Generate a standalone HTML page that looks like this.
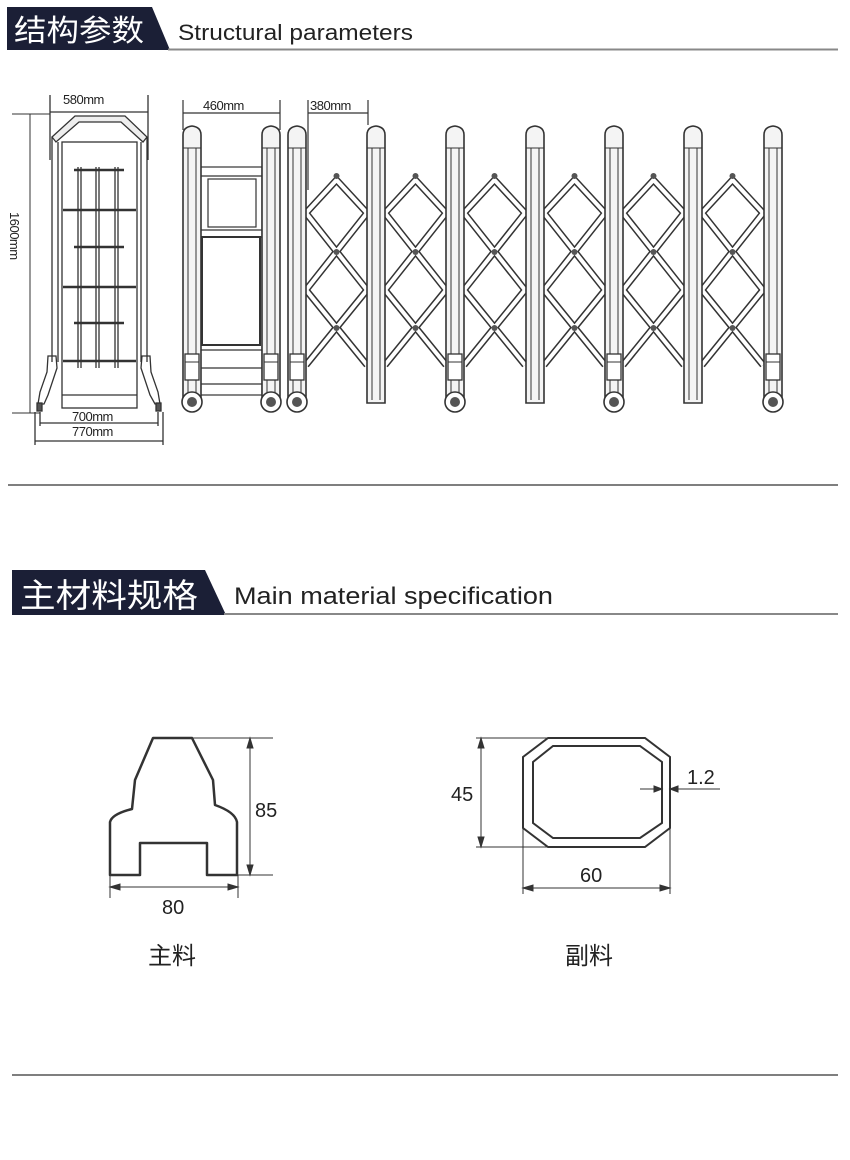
<!DOCTYPE html>
<html><head><meta charset="utf-8"><style>
html,body{margin:0;padding:0;background:#fff;}
body{width:850px;height:1160px;overflow:hidden;position:relative;font-family:"Liberation Sans","Noto Sans CJK SC",sans-serif;}
</style></head><body>
<svg width="850" height="1160" viewBox="0 0 850 1160" xmlns="http://www.w3.org/2000/svg" style="position:absolute;left:0;top:0">
<defs>
<g id="post">
 <path d="M-9,403 L-9,135 Q-9,127 0,126 Q9,127 9,135 L9,403 Z" fill="#f4f4f4" stroke="#333" stroke-width="1.6"/>
 <line x1="-4" y1="148" x2="-4" y2="400" stroke="#333" stroke-width="1"/>
 <line x1="4" y1="148" x2="4" y2="400" stroke="#333" stroke-width="1"/>
 <line x1="-9" y1="148" x2="9" y2="148" stroke="#333" stroke-width="1"/>
</g>
<g id="wpost">
 <use href="#post"/>
 <rect x="-7" y="354" width="14" height="26" fill="#fff" stroke="#333" stroke-width="1.3"/>
 <line x1="-7" y1="362" x2="7" y2="362" stroke="#333"/>
 <circle cx="0" cy="402" r="10" fill="#fff" stroke="#333" stroke-width="1.6"/>
 <circle cx="0" cy="402" r="5" fill="#555"/>
</g>
<g id="bay">
 <g stroke="#333" stroke-width="7" fill="none" stroke-linecap="butt">
  <polyline points="0,213 30.5,180 61,213"/>
  <line x1="0" y1="213" x2="61" y2="290"/>
  <line x1="0" y1="290" x2="61" y2="213"/>
  <line x1="0" y1="290" x2="61" y2="365"/>
  <line x1="0" y1="365" x2="61" y2="290"/>
 </g>
 <g stroke="#fff" stroke-width="4" fill="none">
  <polyline points="0,213 30.5,180 61,213"/>
  <line x1="0" y1="213" x2="61" y2="290"/>
  <line x1="0" y1="290" x2="61" y2="213"/>
  <line x1="0" y1="290" x2="61" y2="365"/>
  <line x1="0" y1="365" x2="61" y2="290"/>
 </g>
 <circle cx="30.5" cy="176" r="3" fill="#555"/>
 <circle cx="30.5" cy="252" r="3" fill="#555"/>
 <circle cx="30.5" cy="328" r="3" fill="#555"/>
</g>
</defs>

<!-- Header 1 -->
<path d="M7,7 L152,7 L170,50 L7,50 Z" fill="#1b1f36"/>
<line x1="168" y1="49.5" x2="838" y2="49.5" stroke="#888" stroke-width="2"/>
<text x="14" y="41" fill="#fff" font-size="30" textLength="130" lengthAdjust="spacingAndGlyphs" font-family="Noto Sans CJK SC,sans-serif">结构参数</text>
<text x="178" y="40" fill="#222" font-size="22" textLength="235" lengthAdjust="spacingAndGlyphs" font-family="Liberation Sans,sans-serif">Structural parameters</text>

<!-- Front frame -->
<g stroke="#333" fill="none" stroke-width="1.3">
 <line x1="50" y1="95" x2="50" y2="160"/><line x1="148" y1="95" x2="148" y2="160"/>
 <line x1="50" y1="112" x2="148" y2="112"/>
 <path d="M52,137 L75,116 L125,116 L147,137 L143,142 L121,122 L79,122 L56,142 Z" fill="#eee"/>
 <line x1="52" y1="137" x2="52" y2="362"/><line x1="58" y1="142" x2="58" y2="362"/>
 <line x1="147" y1="137" x2="147" y2="362"/><line x1="141" y1="142" x2="141" y2="362"/>
 <rect x="62" y="142" width="75" height="266"/>
 <line x1="62" y1="395" x2="137" y2="395"/>
 <line x1="78" y1="167" x2="78" y2="368"/><line x1="81" y1="167" x2="81" y2="368"/>
 <line x1="96" y1="167" x2="96" y2="368"/><line x1="99" y1="167" x2="99" y2="368"/>
 <line x1="115" y1="167" x2="115" y2="368"/><line x1="118" y1="167" x2="118" y2="368"/>
 <g stroke-width="2.5">
 <line x1="74" y1="170" x2="124" y2="170"/><line x1="63" y1="210" x2="136" y2="210"/>
 <line x1="74" y1="247" x2="124" y2="247"/><line x1="63" y1="287" x2="136" y2="287"/>
 <line x1="74" y1="323" x2="124" y2="323"/><line x1="63" y1="361" x2="136" y2="361"/>
 </g>
 <path d="M48,356 L56,356 L57,368 L48,395 L44,404 L38,404 L40,392 L47,372 Z"/>
 <path d="M150,356 L142,356 L141,368 L150,395 L155,404 L160,404 L158,392 L151,372 Z"/>
 <rect x="37" y="403" width="5" height="8" fill="#555"/><rect x="156" y="403" width="5" height="8" fill="#555"/>
 <line x1="12" y1="114" x2="50" y2="114" stroke-width="1"/>
 <line x1="12" y1="413" x2="40" y2="413" stroke-width="1"/>
 <line x1="30" y1="114" x2="30" y2="413" stroke-width="1"/>
 <line x1="40" y1="412" x2="40" y2="426"/><line x1="158" y1="412" x2="158" y2="426"/>
 <line x1="40" y1="423" x2="158" y2="423"/>
 <line x1="35" y1="412" x2="35" y2="445"/><line x1="163" y1="412" x2="163" y2="445"/>
 <line x1="35" y1="441" x2="163" y2="441"/>
</g>
<g font-family="Liberation Sans,sans-serif" font-size="13" fill="#222" letter-spacing="-0.5">
 <text x="63" y="104">580mm</text>
 <text x="72" y="421">700mm</text>
 <text x="72" y="436">770mm</text>
 <text transform="translate(10,212) rotate(90)">1600mm</text>
 <text x="203" y="110">460mm</text>
 <text x="310" y="110">380mm</text>
</g>

<!-- Side view -->
<g stroke="#333" fill="none" stroke-width="1.2">
 <line x1="183" y1="100" x2="183" y2="130"/><line x1="280" y1="100" x2="280" y2="130"/>
 <line x1="183" y1="113" x2="280" y2="113"/>
 <line x1="308" y1="100" x2="308" y2="190"/><line x1="368" y1="100" x2="368" y2="125"/>
 <line x1="308" y1="113" x2="368" y2="113"/>
 <rect x="200" y="167" width="62" height="228"/>
 <line x1="200" y1="176" x2="262" y2="176"/>
 <rect x="208" y="179" width="48" height="48"/>
 <line x1="200" y1="230" x2="262" y2="230"/><line x1="200" y1="237" x2="262" y2="237"/>
 <rect x="202" y="237" width="58" height="108" stroke-width="2"/>
 <line x1="200" y1="350" x2="262" y2="350"/><line x1="200" y1="368" x2="262" y2="368"/><line x1="200" y1="384" x2="262" y2="384"/>
</g>
<use href="#wpost" x="192" y="0"/>
<use href="#wpost" x="271" y="0"/>

<!-- Lattice -->
<use href="#bay" x="306" y="0"/><use href="#bay" x="385" y="0"/><use href="#bay" x="464" y="0"/>
<use href="#bay" x="544" y="0"/><use href="#bay" x="623" y="0"/><use href="#bay" x="702" y="0"/>
<use href="#wpost" x="297" y="0"/>
<use href="#post" x="376" y="0"/>
<use href="#wpost" x="455" y="0"/>
<use href="#post" x="535" y="0"/>
<use href="#wpost" x="614" y="0"/>
<use href="#post" x="693" y="0"/>
<use href="#wpost" x="773" y="0"/>

<line x1="8" y1="485" x2="838" y2="485" stroke="#555" stroke-width="1.5"/>

<!-- Header 2 -->
<path d="M12,570 L205,570 L226,615 L12,615 Z" fill="#1b1f36"/>
<line x1="224" y1="614" x2="838" y2="614" stroke="#888" stroke-width="2"/>
<text x="20" y="607" fill="#fff" font-size="33" textLength="178" lengthAdjust="spacingAndGlyphs" font-family="Noto Sans CJK SC,sans-serif">主材料规格</text>
<text x="234" y="604" fill="#222" font-size="24" textLength="319" lengthAdjust="spacingAndGlyphs" font-family="Liberation Sans,sans-serif">Main material specification</text>

<!-- Main profile -->
<g stroke="#333" fill="none" stroke-width="2.5" stroke-linejoin="round">
 <path d="M110,875 L110,822 Q112,814 132,809 L135,780 L153,738 L192,738 L213,780 L215,805 Q235,812 237,822 L237,875 L207,875 L207,843 L140,843 L140,875 Z"/>
</g>
<g stroke="#333" fill="#333" stroke-width="1">
 <line x1="192" y1="738" x2="273" y2="738"/><line x1="237" y1="875" x2="273" y2="875"/>
 <line x1="250" y1="738" x2="250" y2="875"/>
 <path d="M250,738 l-3,10 h6 z"/><path d="M250,875 l-3,-10 h6 z"/>
 <line x1="110" y1="875" x2="110" y2="898"/><line x1="238" y1="875" x2="238" y2="898"/>
 <line x1="110" y1="887" x2="238" y2="887"/>
 <path d="M110,887 l10,-3 v6 z"/><path d="M238,887 l-10,-3 v6 z"/>
</g>
<text x="255" y="817" font-size="20" font-family="Liberation Sans,sans-serif" fill="#222">85</text>
<text x="162" y="914" font-size="20" font-family="Liberation Sans,sans-serif" fill="#222">80</text>

<!-- Sub profile -->
<g stroke="#333" fill="none" stroke-width="2">
 <path d="M548,738 L645,738 L670,757 L670,828 L645,847 L548,847 L523,828 L523,757 Z"/>
 <path d="M553,746 L640,746 L662,762 L662,823 L640,838 L553,838 L533,823 L533,762 Z"/>
</g>
<g stroke="#333" fill="#333" stroke-width="1">
 <line x1="476" y1="738" x2="548" y2="738"/><line x1="476" y1="847" x2="548" y2="847"/>
 <line x1="481" y1="738" x2="481" y2="847"/>
 <path d="M481,738 l-3,10 h6 z"/><path d="M481,847 l-3,-10 h6 z"/>
 <line x1="523" y1="828" x2="523" y2="894"/><line x1="670" y1="828" x2="670" y2="894"/>
 <line x1="523" y1="888" x2="670" y2="888"/>
 <path d="M523,888 l10,-3 v6 z"/><path d="M670,888 l-10,-3 v6 z"/>
 <line x1="640" y1="789" x2="662" y2="789"/><path d="M662,789 l-8,-3 v6 z"/>
 <line x1="670" y1="789" x2="720" y2="789"/><path d="M670,789 l8,-3 v6 z"/>
</g>
<text x="451" y="801" font-size="20" font-family="Liberation Sans,sans-serif" fill="#222">45</text>
<text x="687" y="784" font-size="20" font-family="Liberation Sans,sans-serif" fill="#222">1.2</text>
<text x="580" y="882" font-size="20" font-family="Liberation Sans,sans-serif" fill="#222">60</text>

<text x="148" y="964" font-size="24" font-family="Noto Sans CJK SC,sans-serif" fill="#222">主料</text>
<text x="565" y="964" font-size="24" font-family="Noto Sans CJK SC,sans-serif" fill="#222">副料</text>

<line x1="12" y1="1075" x2="838" y2="1075" stroke="#555" stroke-width="1.5"/>
</svg>
</body></html>
